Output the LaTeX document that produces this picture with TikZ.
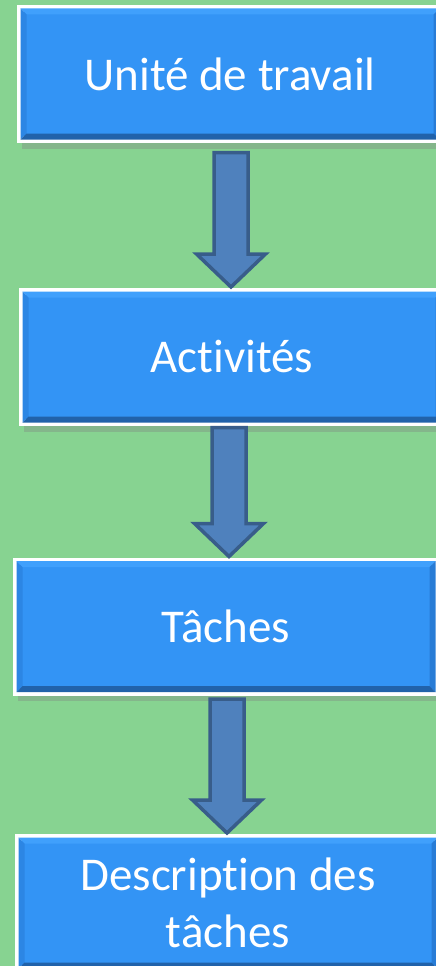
\documentclass[tikz,border=0pt]{standalone}
\usepackage{fontspec}
\setmainfont[Ligatures=NoCommon]{Carlito}
\usepackage{tikz}
\usetikzlibrary{calc,shadows}
\usepackage{xcolor}
\definecolor{fondvert}{RGB}{135,211,145}
\definecolor{boxblue}{RGB}{51,148,245}
\definecolor{bevtop}{RGB}{64,160,252}
\definecolor{bevleft}{RGB}{44,134,228}
\definecolor{bevright}{RGB}{40,124,214}
\definecolor{bevbottom}{RGB}{33,98,170}
\definecolor{arrowfill}{RGB}{79,129,189}
\definecolor{arrowline}{RGB}{56,93,138}
\tikzstyle{etape} = [rectangle, minimum width=419pt, minimum height=131pt, inner sep=0pt, text centered, align=center, draw=white, line width=7pt, fill=boxblue, text=white, font=\fontsize{47}{57}\selectfont, drop shadow={shadow xshift=1pt, shadow yshift=-9pt, opacity=0.35}]
\tikzstyle{fleche} = [fill=arrowfill, draw=arrowline, line width=3.5pt, line join=miter]

\begin{document}
\begin{tikzpicture}[x=1pt, y=-1pt]
    % Background
    \fill[fondvert] (0,0) rectangle (436,966);
    \useasboundingbox (0,0) rectangle (436,966);

    % Steps
    \node[etape] (unite) at (230, 74) {Unité de travail};
    \node[etape] (activites) at (232, 357) {Activités};
    \node[etape] (taches) at (226, 626.5) {Tâches};
    \node[etape] (description) at (228, 903) {Description des\\tâches};

    % Bevel of the boxes
    \foreach \n in {unite, activites, taches, description}{
        \path ($(\n.south west)+(3.5pt,3.5pt)$) coordinate (a1)
              ($(\n.south east)+(-3.5pt,3.5pt)$) coordinate (b1)
              ($(\n.north east)+(-3.5pt,-3.5pt)$) coordinate (c1)
              ($(\n.north west)+(3.5pt,-3.5pt)$) coordinate (d1)
              ($(a1)+(6pt,6pt)$) coordinate (a2)
              ($(b1)+(-6pt,6pt)$) coordinate (b2)
              ($(c1)+(-6pt,-6pt)$) coordinate (c2)
              ($(d1)+(6pt,-6pt)$) coordinate (d2);
        \fill[bevtop] (c1) -- (d1) -- (d2) -- (c2) -- cycle;
        \fill[bevleft] (d1) -- (a1) -- (a2) -- (d2) -- cycle;
        \fill[bevright] (b1) -- (c1) -- (c2) -- (b2) -- cycle;
        \fill[bevbottom] (a1) -- (b1) -- (b2) -- (a2) -- cycle;
    }

    % Arrows
    \foreach \a/\b/\g in {unite/activites/9.5, activites/taches/1.5, taches/description/3.5}{
        \draw[fleche] let \p1 = (\a.south), \p2 = (\b.north), \p3 = ($(\a.south)!0.5!(\b.north)$) in
            ({\x3-17pt}, {\y1-\g*1pt}) -- ({\x3+17pt}, {\y1-\g*1pt}) -- ({\x3+17pt}, {\y2+34pt})
            -- ({\x3+34.5pt}, {\y2+34pt}) -- (\x3, {\y2+1pt}) -- ({\x3-34.5pt}, {\y2+34pt})
            -- ({\x3-17pt}, {\y2+34pt}) -- cycle;
    }
\end{tikzpicture}
\end{document}
